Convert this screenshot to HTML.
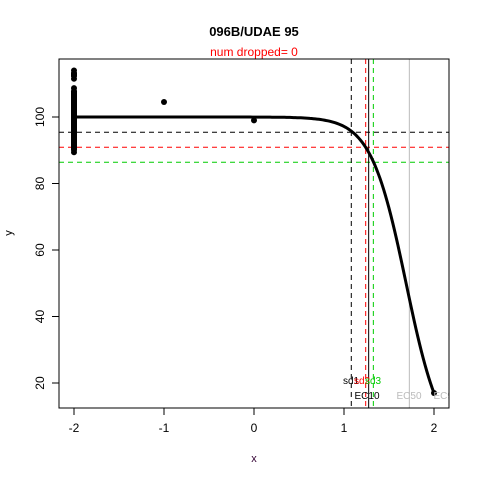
<!DOCTYPE html>
<html><head><meta charset="utf-8"><style>body{margin:0;background:#fff}svg{display:block;font-family:"Liberation Sans",Arial,sans-serif}</style></head>
<body>
<svg id="c" width="480" height="480"></svg>
<script>
const xTicks=[-2,-1,0,1,2];
const yTicks=[20,40,60,80,100];
const ptX=[-2,-2,-2,-2,-2,-2,-2,-2,-2,-2,-2,-2,-2,-2,-2,-2,-2,-2,-2,-2,-2,-1,0];
const ptY=[114,113.2,112.4,111.5,108.7,107.5,106,104.5,103,101.5,100,98.5,97,95.5,94,92.5,91.2,90.2,89.4,99.5,96.2,104.5,99];
const fitTop=100, fitSlope=5.12, fitEC50=1.69;
const vLinesX=[1.081,1.241,1.274,1.326,1.726];
const vLinesStyle=['#000','#f00','#000','#0c0','#bbb'];
const hLinesY=[95.4,90.9,86.4];
const hLinesColor=['#000','#f00','#0c0'];
const X=v=>254+90*v, Y=v=>383-(v-20)*3.325;
const s=document.getElementById('c'),NS='http://www.w3.org/2000/svg';
function mk(t,a,p){const e=document.createElementNS(NS,t);for(const k in a)e.setAttribute(k,a[k]);(p||s).appendChild(e);return e;}
function tx(x,y,str,o,p){const e=mk('text',Object.assign({x:x,y:y,'font-size':12,'text-anchor':'middle'},o||{}),p);e.textContent=str;return e;}
const clip=mk('clipPath',{id:'cp'});mk('rect',{x:59,y:59,width:390,height:349},clip);
const g=mk('g',{'clip-path':'url(#cp)'});


hLinesY.forEach((v,i)=>{const l=mk('line',{x1:59,x2:449,y1:Y(v),y2:Y(v),stroke:hLinesColor[i],'stroke-dasharray':'5,4'},g);

});
vLinesX.forEach((v,i)=>{const a={x1:X(v),x2:X(v),y1:59,y2:408,stroke:vLinesStyle[i]};if(i!=2&&i!=4)a['stroke-dasharray']='5,4';const l=mk('line',a,g);

});
let d='';for(let x=-2;x<=2.0001;x+=0.02){const y=fitTop/(1+Math.exp(fitSlope*(x-fitEC50)));d+=(d?'L':'M')+X(x).toFixed(1)+','+Y(y).toFixed(1);}
const cv=mk('path',{d:d,fill:'none',stroke:'#000','stroke-width':3},g);


ptX.forEach((v,i)=>{const c=mk('circle',{cx:X(v),cy:Y(ptY[i]),r:3,fill:'#000'},g);

});
const lastY=fitTop/(1+Math.exp(fitSlope*(2-fitEC50)));
mk('circle',{cx:X(2),cy:Y(lastY),r:3,fill:'#000'},g);
mk('rect',{x:X(-2)-3,y:Y(108.7),width:6,height:Y(89.4)-Y(108.7),fill:'#000',rx:3},g);
mk('rect',{x:X(-2)-3,y:Y(114),width:6,height:Y(111.5)-Y(114),fill:'#000',rx:3},g);
const lt=mk('text',{x:343,y:384,'font-size':10},g);
[['sd1','#000'],['sd2','#f00'],['sd3','#0c0']].forEach((p,i)=>{const t=mk('tspan',{fill:p[1],x:343+i*11},lt);t.textContent=p[0];});
tx(367,399,'EC10',{'font-size':10,fill:'#000'},g);
tx(409,399,'EC50',{'font-size':10,fill:'#bbb'},g);
tx(446,399,'EC90',{'font-size':10,fill:'#bbb'},g);
const box=mk('rect',{x:59,y:59,width:390,height:349,fill:'none',stroke:'#000'});


xTicks.forEach(v=>{mk('line',{x1:X(v),x2:X(v),y1:408,y2:415,stroke:'#000'});const t=tx(X(v),432,String(v));

});
yTicks.forEach(v=>{mk('line',{x1:52,x2:59,y1:Y(v),y2:Y(v),stroke:'#000'});const t=tx(40,Y(v),String(v),{transform:`rotate(-90 40 ${Y(v)})`,dy:4});

});
const ti=tx(254,36,'096B/UDAE 95',{'font-weight':'bold','font-size':13});


const st=tx(254,56,'num dropped= 0',{fill:'#f00'});


const xl=tx(254,462,'x',{'font-size':11,fill:'#303'});


const yl=tx(12,233,'y',{'font-size':11,transform:'rotate(-90 12 233)'});


</script>
</body></html>
